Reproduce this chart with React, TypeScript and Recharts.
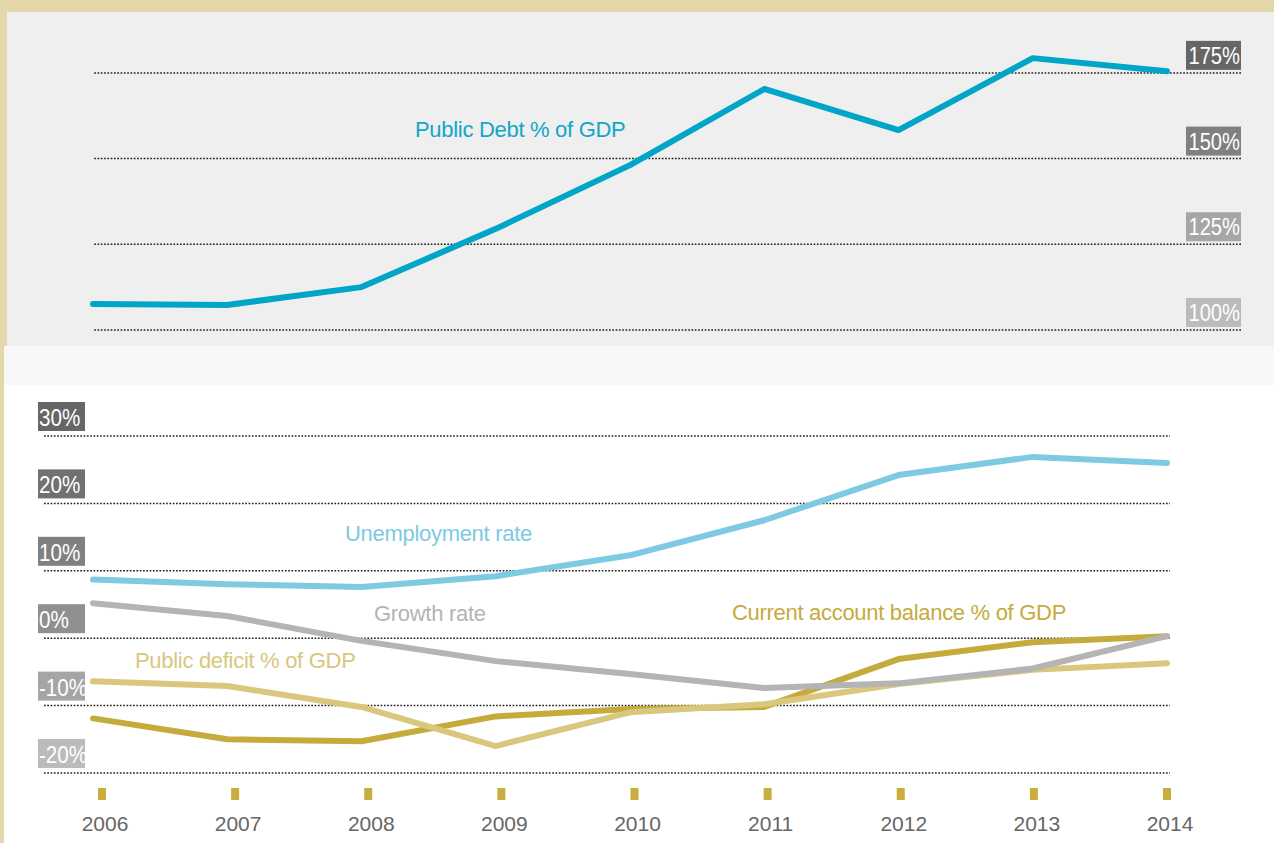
import { CartesianGrid, Line, LineChart, ReferenceLine, XAxis, YAxis } from "recharts"

const years = ["2006", "2007", "2008", "2009", "2010", "2011", "2012", "2013", "2014"]
const publicDebt = [107.6, 107.3, 112.5, 129.5, 148.1, 170.3, 158.3, 179.3, 175.5]
const unemployment = [8.7, 8.0, 7.6, 9.2, 12.3, 17.5, 24.2, 26.9, 26.0]
const growth = [5.2, 3.3, -0.4, -3.4, -5.3, -7.4, -6.7, -4.5, 0.3]
const deficit = [-6.4, -7.1, -10.2, -16.0, -11.0, -9.8, -6.8, -4.7, -3.7]
const currentAccount = [-11.9, -15.0, -15.3, -11.6, -10.5, -10.2, -3.1, -0.6, 0.3]

const debtTicks = [100, 125, 150, 175]
const debtTickColors = ["#bbbbbb", "#a6a6a6", "#808080", "#666666"]
const rateTicks = [-20, -10, 0, 10, 20, 30]
const rateTickColors = ["#bbbbbb", "#a5a5a5", "#8f8f8f", "#808080", "#717171", "#666666"]

const debtData = years.map((year, i) => ({ year, debt: publicDebt[i] }))
const rateData = years.map((year, i) => ({
  year,
  unemployment: unemployment[i],
  growth: growth[i],
  deficit: deficit[i],
  current: currentAccount[i],
}))

const font = "'Liberation Sans', Arial, sans-serif"

function DebtTick(props: any) {
  const { x, y, payload } = props
  const color = debtTickColors[debtTicks.indexOf(payload.value)]
  return (
    <g>
      <rect x={x - 55} y={y - 32} width={55} height={29} fill={color} />
      <text
        transform={`translate(${x - 1},${y - 9}) scale(0.84,1)`}
        textAnchor="end"
        fill="#fff"
        fontSize={24}
        fontFamily={font}
      >
        {payload.value}%
      </text>
    </g>
  )
}

function RateTick(props: any) {
  const { x, y, payload } = props
  const color = rateTickColors[rateTicks.indexOf(payload.value)]
  const id = `rate-clip-${rateTicks.indexOf(payload.value)}`
  return (
    <g>
      <defs>
        <clipPath id={id}>
          <rect x={x - 6} y={y - 34} width={47} height={29} />
        </clipPath>
      </defs>
      <rect x={x - 6} y={y - 34} width={47} height={29} fill={color} />
      <g clipPath={`url(#${id})`}>
        <text
          transform={`translate(${x - 5},${y - 10}) scale(0.86,1)`}
          fill="#fff"
          fontSize={24}
          fontFamily={font}
        >
          {payload.value}%
        </text>
      </g>
    </g>
  )
}

function YearTick(props: any) {
  const { x, y, payload } = props
  return (
    <g>
      <rect x={x - 4} y={y + 15} width={8} height={12} fill="#c8ae3e" />
      <text x={x + 3} y={y + 58} textAnchor="middle" fill="#666" fontSize={21} fontFamily={font}>
        {payload.value}
      </text>
    </g>
  )
}

const label = (text: string, left: number, top: number, color: string) => (
  <div
    style={{
      position: "absolute",
      left,
      top,
      color,
      fontSize: 22,
      fontFamily: font,
      letterSpacing: -0.3,
      whiteSpace: "nowrap",
      lineHeight: "24px",
    }}
  >
    {text}
  </div>
)

const grid = { stroke: "#222", strokeDasharray: "1.7 1.6", strokeWidth: 1.5 }

export default function App() {
  return (
    <div style={{ position: "relative", width: 1274, height: 843, background: "#e4d8aa", overflow: "hidden" }}>
      <style>{"body{margin:0}"}</style>
      <div style={{ position: "absolute", left: 7, top: 12, width: 1267, height: 334, background: "#efefef" }} />
      <div style={{ position: "absolute", left: 4, top: 346, width: 1270, height: 39, background: "#f7f7f7" }} />
      <div style={{ position: "absolute", left: 4, top: 385, width: 1270, height: 458, background: "#ffffff" }} />

      <div style={{ position: "absolute", left: 0, top: 0 }}>
        <LineChart width={1274} height={360} data={debtData} margin={{ top: 38.6, right: 32, bottom: 12.9, left: 93 }}>
          <XAxis dataKey="year" hide height={0} padding={{ left: 0, right: 74 }} />
          <YAxis
            orientation="right"
            width={1}
            domain={[95, 185]}
            ticks={debtTicks}
            axisLine={false}
            tickLine={false}
            tickSize={0}
            tickMargin={0}
            interval={0}
            tick={<DebtTick />}
          />
          {debtTicks.map((t) => (
            <ReferenceLine key={t} y={t} {...grid} />
          ))}
          <Line
            dataKey="debt"
            stroke="#00a5c8"
            strokeWidth={6}
            strokeLinecap="round"
            strokeLinejoin="round"
            dot={false}
            isAnimationActive={false}
          />
        </LineChart>
      </div>

      <div style={{ position: "absolute", left: 0, top: 380 }}>
        <LineChart width={1274} height={463} data={rateData} margin={{ top: 56, right: 104, bottom: 0, left: 43 }}>
          <CartesianGrid xAxisId="d" vertical={false} {...grid} />
          <XAxis xAxisId="d" dataKey="year" hide height={0} padding={{ left: 49, right: 3 }} />
          <XAxis
            xAxisId="labels"
            dataKey="year"
            height={70}
            padding={{ left: 58, right: 3 }}
            axisLine={false}
            tickLine={false}
            tickSize={0}
            tickMargin={0}
            interval={0}
            tick={<YearTick />}
          />
          <YAxis
            width={1}
            domain={[-20, 30]}
            ticks={rateTicks}
            axisLine={false}
            tickLine={false}
            tickSize={0}
            tickMargin={0}
            interval={0}
            tick={<RateTick />}
          />
          <Line xAxisId="d" dataKey="current" stroke="#c5ab3c" strokeWidth={6} strokeLinecap="round" strokeLinejoin="round" dot={false} isAnimationActive={false} />
          <Line xAxisId="d" dataKey="deficit" stroke="#d9c77e" strokeWidth={6} strokeLinecap="round" strokeLinejoin="round" dot={false} isAnimationActive={false} />
          <Line xAxisId="d" dataKey="growth" stroke="#b4b4b4" strokeWidth={6} strokeLinecap="round" strokeLinejoin="round" dot={false} isAnimationActive={false} />
          <Line xAxisId="d" dataKey="unemployment" stroke="#7dcae2" strokeWidth={6} strokeLinecap="round" strokeLinejoin="round" dot={false} isAnimationActive={false} />
        </LineChart>
      </div>

      {label("Public Debt % of GDP", 415, 118, "#12a6c8")}
      {label("Unemployment rate", 345, 522, "#7dcae2")}
      {label("Growth rate", 374, 602, "#b4b4b4")}
      {label("Public deficit % of GDP", 135, 649, "#d9c77e")}
      {label("Current account balance % of GDP", 732, 601, "#c5ab3c")}
    </div>
  )
}
